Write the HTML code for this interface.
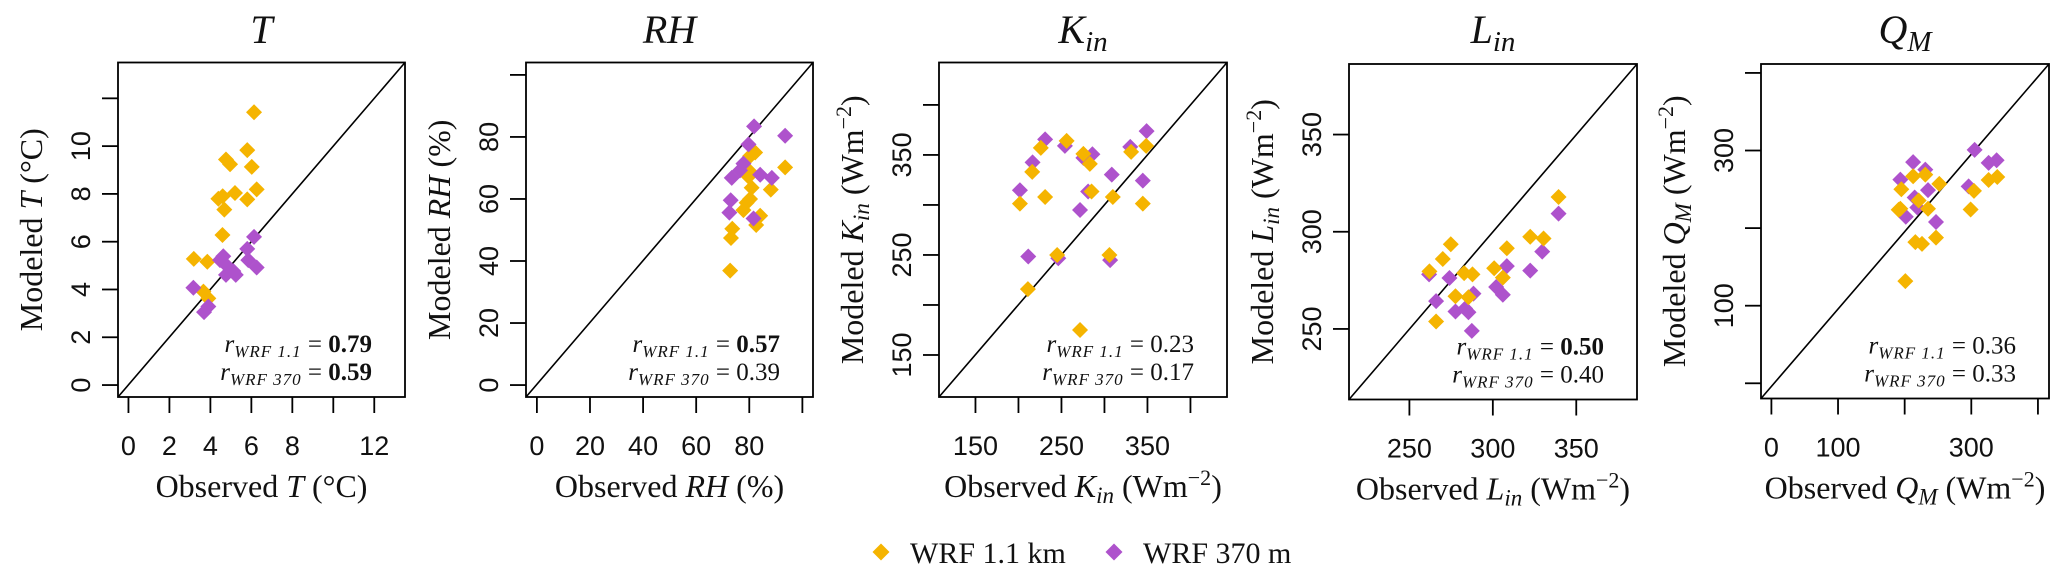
<!DOCTYPE html>
<html><head><meta charset="utf-8"><style>
html,body{margin:0;padding:0;background:#fff;}
svg{display:block;}
text{font-family:"Liberation Serif",serif;fill:#111;}
.tick{font-family:"Liberation Sans",sans-serif;font-size:27px;}
</style></head><body>
<svg id="chart" width="2067" height="583" viewBox="0 0 2067 583" xmlns="http://www.w3.org/2000/svg"></svg>
<script>
// ---- Data (observed, modeled) ----
const T_obs_11 = [6.13,5.8,4.76,4.96,6.02,6.26,5.2,4.39,4.6,5.8,4.68,4.59,3.19,3.85,3.66,3.9];
const T_mod_11 = [11.42,9.83,9.44,9.24,9.13,8.19,8.04,7.8,7.9,7.77,7.34,6.28,5.28,5.16,3.91,3.63];
const T_obs_370 = [6.13,5.8,4.63,4.47,5.85,4.8,5.12,6.26,4.76,5.24,3.17,3.9,3.69];
const T_mod_370 = [6.2,5.7,5.39,5.23,5.23,5.0,4.77,4.92,4.61,4.61,4.07,3.29,3.05];

const RH_obs_11 = [72.8,73.1,73.6,82.6,84.1,77.8,79,80.3,80.9,88.1,79.7,80,93.5,80.3,82.2];
const RH_mod_11 = [36.9,47.4,50.4,51.6,54.6,56.4,58.8,60,63.6,63,67.2,69,70.2,73.8,75];
const RH_obs_370 = [81.8,93.5,79.7,77.8,76.5,73.4,84.1,88.5,73,72.5,81.6];
const RH_mod_370 = [83.4,80.4,77.6,71.4,69.2,66.8,67.8,66.8,59.6,55.6,53.7];

const K_obs_11 = [256,226,275.5,283,216,331,348.5,285,231,309.7,201.7,344.6,245,305.8,211,271.6];
const K_mod_11 = [364,357,351,341,333,353,359,313.5,308,308,301.3,301.3,250,250,215.8,175];
const K_obs_370 = [231,254,349,330,286,275.5,216.4,308.5,344.6,201.7,281,271.6,211.4,246.3,306.6];
const K_mod_370 = [365.6,359,373.8,358,350.7,347,342.6,330.3,324.3,314.7,313.5,295,248.5,246.7,244.8];

const L_obs_11 = [339.4,322.4,330.4,274.8,308.4,270,262,300.8,282.8,287.8,306,277.6,285.4,266];
const L_mod_11 = [317.9,297.4,296.5,293.6,291.5,286,279.6,281.2,278.7,278.1,276.4,266.8,266.3,253.8];
const L_obs_370 = [339.4,329.6,308.4,322.4,261.8,274,302,306,288.4,266,277.6,283.4,285.4,287.4];
const L_mod_370 = [309.3,289.8,282.3,280,278.1,276.2,271.6,267.6,268.2,264.3,259,260.5,258.6,249];

const Q_obs_11 = [201,216,226,247,191,193.5,235,221,299,195,304,252,212.7,231,326,339];
const Q_mod_11 = [131.7,182,179.6,187.7,223.7,225,225,235.6,224,250,248,257,266.8,269,262,265.8];
const Q_obs_370 = [305,212.7,326,338,231,193.5,296,235,215,219,201.7,247];
const Q_mod_370 = [300.8,285,284,287.4,275.4,262.5,253.8,249,239.5,226.5,214.6,207.9];

// ---- Axis ticks ----
const T_xticks = [0,2,4,6,8,10,12]; const T_xlabels = ["0","2","4","6","8","","12"];
const T_yticks = [0,2,4,6,8,10,12]; const T_ylabels = ["0","2","4","6","8","10",""];
const RH_xticks = [0,20,40,60,80,100]; const RH_xlabels = ["0","20","40","60","80",""];
const RH_yticks = [0,20,40,60,80,100]; const RH_ylabels = ["0","20","40","60","80",""];
const K_xticks = [150,200,250,300,350,400]; const K_xlabels = ["150","","250","","350",""];
const K_yticks = [150,200,250,300,350,400]; const K_ylabels = ["150","","250","","350",""];
const L_xticks = [250,300,350]; const L_xlabels = ["250","300","350"];
const L_yticks = [250,300,350]; const L_ylabels = ["250","300","350"];
const Q_xticks = [0,100,200,300,400]; const Q_xlabels = ["0","100","","300",""];
const Q_yticks = [0,100,200,300,400]; const Q_ylabels = ["","100","","300",""];

const ORANGE = "#F5B400", PURPLE = "#AE52CC";
const NS = "http://www.w3.org/2000/svg";
const svg = document.getElementById("chart");

function el(tag, attrs, parent){
  const e = document.createElementNS(NS, tag);
  for (const k in attrs) e.setAttribute(k, attrs[k]);
  (parent||svg).appendChild(e);
  return e;
}
function tspan(parent, txt, attrs){
  const t = document.createElementNS(NS,"tspan");
  for (const k in attrs) t.setAttribute(k, attrs[k]);
  t.textContent = txt; parent.appendChild(t); return t;
}

const panels = [
  {key:"t", box:[118,62.5,405,397], dom:[-0.51,13.5], ydom:[-0.5,13.5],
   xt:T_xticks, xl:T_xlabels, yt:T_yticks, yl:T_ylabels,
   o11:T_obs_11, m11:T_mod_11, o370:T_obs_370, m370:T_mod_370, orangeTop:false,
   sym:["T",""], unit:" (°C)", unitSup:false, r11:"0.79", r370:"0.59", b11:true, b370:true},
  {key:"rh", box:[526,62.5,813,397], dom:[-4.1,104], ydom:[-3.85,104],
   xt:RH_xticks, xl:RH_xlabels, yt:RH_yticks, yl:RH_ylabels,
   o11:RH_obs_11, m11:RH_mod_11, o370:RH_obs_370, m370:RH_mod_370, orangeTop:false,
   sym:["RH",""], unit:" (%)", unitSup:false, r11:"0.57", r370:"0.39", b11:true, b370:false},
  {key:"kin", box:[939,62.5,1227,397], dom:[107.6,442.5], ydom:[108,442.4],
   xt:K_xticks, xl:K_xlabels, yt:K_yticks, yl:K_ylabels,
   o11:K_obs_11, m11:K_mod_11, o370:K_obs_370, m370:K_mod_370, orangeTop:true,
   sym:["K","in"], unit:"Wm", unitSup:true, r11:"0.23", r370:"0.17", b11:false, b370:false},
  {key:"lin", box:[1349,64,1637,399.5], dom:[213.8,386.4], ydom:[213.7,386.3],
   xt:L_xticks, xl:L_xlabels, yt:L_yticks, yl:L_ylabels,
   o11:L_obs_11, m11:L_mod_11, o370:L_obs_370, m370:L_mod_370, orangeTop:true,
   sym:["L","in"], unit:"Wm", unitSup:true, r11:"0.50", r370:"0.40", b11:true, b370:false},
  {key:"qm", box:[1761,64,2049,398.5], dom:[-15.6,416.6], ydom:[-19.6,411.5],
   xt:Q_xticks, xl:Q_xlabels, yt:Q_yticks, yl:Q_ylabels,
   o11:Q_obs_11, m11:Q_mod_11, o370:Q_obs_370, m370:Q_mod_370, orangeTop:true,
   sym:["Q","M"], unit:"Wm", unitSup:true, r11:"0.36", r370:"0.33", b11:false, b370:false}
];

function addSymbol(t, sym, size){
  tspan(t, sym[0], {"font-style":"italic"});
  if (sym[1]) tspan(t, sym[1], {"font-style":"italic","font-size":Math.round(size*0.72)+"px","dy":Math.round(size*0.2)});
}
function addUnit(t, p, size){
  if (p.sym[1]) tspan(t, " (", {"dy":-Math.round(size*0.2)}); else tspan(t, " (", {});
  if (p.unitSup){
    tspan(t, "Wm", {});
    tspan(t, "−2", {"font-size":Math.round(size*0.7)+"px","dy":-Math.round(size*0.38)});
    tspan(t, ")", {"dy":Math.round(size*0.38)});
  } else {
    tspan(t, p.unit.replace(" (","").replace(")",""), {});
    tspan(t, ")", {});
  }
}

panels.forEach(p => {
  const [x0,y0,x1,y1] = p.box;
  const g = el("g", {});
  
  
  const sx = v => x0 + (v - p.dom[0]) / (p.dom[1]-p.dom[0]) * (x1-x0);
  const sy = v => y1 - (v - p.ydom[0]) / (p.ydom[1]-p.ydom[0]) * (y1-y0);
  const cx = (x0+x1)/2, cy = (y0+y1)/2;

  const title = el("text", {x:cx, y:43, "text-anchor":"middle", "font-size":"40px"}, g);
  
  
  addSymbol(title, p.sym, 40);

  const diag = el("line", {x1:x0, y1:y1, x2:x1, y2:y0, stroke:"#000", "stroke-width":1.6}, g);
  
  

  const drawSeries = (obs, mod, color, name) => {
    obs.forEach((v,i) => {
      const px = sx(v), py = sy(mod[i]), r = 8;
      const d = el("polygon", {points:`${px},${py-r} ${px+r},${py} ${px},${py+r} ${px-r},${py}`, fill:color}, g);
      
      
    });
  };
  if (p.orangeTop){ drawSeries(p.o370,p.m370,PURPLE,'wrf-370m'); drawSeries(p.o11,p.m11,ORANGE,'wrf-1-1km'); }
  else { drawSeries(p.o11,p.m11,ORANGE,'wrf-1-1km'); drawSeries(p.o370,p.m370,PURPLE,'wrf-370m'); }

  const box = el("rect", {x:x0, y:y0, width:x1-x0, height:y1-y0, fill:"none", stroke:"#000", "stroke-width":1.8}, g);
  
  

  p.xt.forEach((v,i) => {
    const x = sx(v);
    const tk = el("line", {x1:x, y1:y1, x2:x, y2:y1+16, stroke:"#000", "stroke-width":1.8}, g);
    
    
    if (p.xl[i]){
      const lb = el("text", {x:x, y:y1+58, "text-anchor":"middle", class:"tick"}, g);
      lb.textContent = p.xl[i];
      
      
    }
  });
  p.yt.forEach((v,i) => {
    const y = sy(v);
    const tk = el("line", {x1:x0-16, y1:y, x2:x0, y2:y, stroke:"#000", "stroke-width":1.8}, g);
    
    
    if (p.yl[i]){
      const lb = el("text", {x:0, y:0, "text-anchor":"middle", class:"tick", transform:`translate(${x0-28},${y}) rotate(-90)`}, g);
      lb.textContent = p.yl[i];
      
      
    }
  });

  const xt = el("text", {x:cx, y:y1+100, "text-anchor":"middle", "font-size":"32px"}, g);
  
  
  tspan(xt, "Observed ", {});
  addSymbol(xt, p.sym, 32);
  addUnit(xt, p, 32);

  const yt = el("text", {x:0, y:0, "text-anchor":"middle", "font-size":"32px", transform:`translate(${x0-76},${cy}) rotate(-90)`}, g);
  
  
  tspan(yt, "Modeled ", {});
  addSymbol(yt, p.sym, 32);
  addUnit(yt, p, 32);

  const rline = (label, val, bold, y, nm) => {
    const t = el("text", {x:x1-33, y:y, "text-anchor":"end", "font-size":"25px"}, g);
    
    
    tspan(t, "r", {"font-style":"italic"});
    tspan(t, label, {"font-style":"italic","font-size":"17px","dy":5,"letter-spacing":"1"});
    tspan(t, " = ", {"dy":-5});
    tspan(t, val, bold ? {"font-weight":"bold"} : {});
  };
  rline("WRF 1.1", p.r11, p.b11, y1-45, 'r-wrf-1-1-' + p.key);
  rline("WRF 370", p.r370, p.b370, y1-17, 'r-wrf-370-' + p.key);
});

const leg = el("g", {});


[[881,910,ORANGE,"WRF 1.1 km","legend-entry-wrf-1-1km"],[1114,1143,PURPLE,"WRF 370 m","legend-entry-wrf-370m"]].forEach(L => {
  const r = 8.5, cx = L[0], cy = 552;
  const d = el("polygon", {points:`${cx},${cy-r} ${cx+r},${cy} ${cx},${cy+r} ${cx-r},${cy}`, fill:L[2]}, leg);
  
  
  const t = el("text", {x:L[1], y:563, "font-size":"30px"}, leg);
  t.textContent = L[3];
  
  
});
</script>
</body></html>
